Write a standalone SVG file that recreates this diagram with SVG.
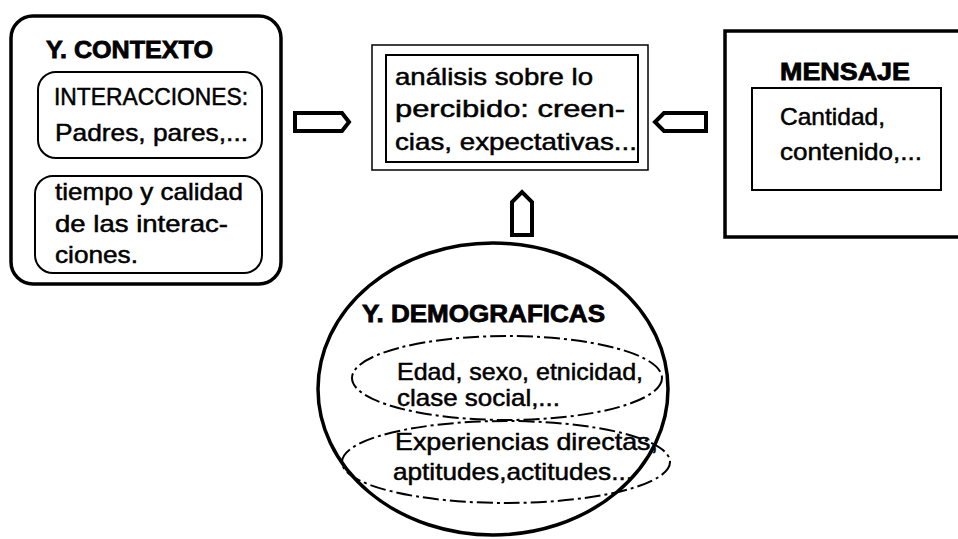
<svg xmlns="http://www.w3.org/2000/svg" width="958" height="539" viewBox="0 0 958 539">
<style>
  text { font-family: "Liberation Sans", Arial, sans-serif; font-size: 24px; fill: #000; stroke: #000; stroke-width: 0.5; }
  .b { font-weight: bold; stroke-width: 0.8; }
  .thick { fill: none; stroke: #000; stroke-width: 3.5; }
  .thin { fill: none; stroke: #000; stroke-width: 2; }
  .dash { fill: none; stroke: #000; stroke-width: 2; stroke-dasharray: 16 4 3 4; }
  .arrow { fill: #fff; stroke: #000; stroke-width: 4; stroke-linejoin: miter; }
</style>
<rect width="958" height="539" fill="#fff"/>

<g id="contexto">
  <rect class="thick" x="11" y="16" width="270" height="268" rx="22"/>
  <text class="b" x="46" y="58" textLength="167" lengthAdjust="spacingAndGlyphs">Y. CONTEXTO</text>
  <rect class="thin" x="38" y="72" width="224" height="86" rx="18"/>
  <text x="54" y="105" textLength="194" lengthAdjust="spacingAndGlyphs">INTERACCIONES:</text>
  <text x="55" y="141" textLength="193" lengthAdjust="spacingAndGlyphs">Padres, pares,...</text>
  <rect class="thin" x="35" y="176" width="227" height="97" rx="18"/>
  <text x="55" y="200" textLength="188" lengthAdjust="spacingAndGlyphs">tiempo y calidad</text>
  <text x="55" y="232" textLength="173" lengthAdjust="spacingAndGlyphs">de las interac-</text>
  <text x="55" y="263" textLength="83" lengthAdjust="spacingAndGlyphs">ciones.</text>
</g>

<g id="analisis">
  <rect fill="none" stroke="#000" stroke-width="1.5" x="372" y="45" width="276" height="125"/>
  <rect class="thin" x="386" y="55" width="252" height="107"/>
  <text x="395" y="85" textLength="198" lengthAdjust="spacingAndGlyphs">análisis sobre lo</text>
  <text x="395" y="117" textLength="230" lengthAdjust="spacingAndGlyphs">percibido: creen-</text>
  <text x="395" y="150" textLength="242" lengthAdjust="spacingAndGlyphs">cias, expectativas...</text>
</g>

<g id="mensaje">
  <path class="thick" d="M962,31 H725 V237 H962"/>
  <text class="b" x="780" y="80" textLength="130" lengthAdjust="spacingAndGlyphs">MENSAJE</text>
  <rect class="thin" x="752" y="88" width="189" height="102"/>
  <text x="780" y="125" textLength="105" lengthAdjust="spacingAndGlyphs">Cantidad,</text>
  <text x="780" y="160" textLength="142" lengthAdjust="spacingAndGlyphs">contenido,...</text>
</g>

<g id="demograficas">
  <ellipse class="thick" cx="493" cy="389" rx="175" ry="146"/>
  <text class="b" x="362" y="322" textLength="243" lengthAdjust="spacingAndGlyphs">Y. DEMOGRAFICAS</text>
  <ellipse class="dash" cx="507" cy="378" rx="155" ry="42"/>
  <text x="397" y="380" textLength="246" lengthAdjust="spacingAndGlyphs">Edad, sexo, etnicidad,</text>
  <text x="397" y="406" textLength="163" lengthAdjust="spacingAndGlyphs">clase social,...</text>
  <ellipse class="dash" cx="506" cy="462" rx="164" ry="41"/>
  <text x="395" y="450" textLength="263" lengthAdjust="spacingAndGlyphs">Experiencias directas,</text>
  <text x="393" y="480" textLength="240" lengthAdjust="spacingAndGlyphs">aptitudes,actitudes...</text>
</g>

<g id="connectors">
  <path class="arrow" d="M295,113 H342 L349,122 L342,131 H295 Z"/>
  <path class="arrow" d="M706,113 H664 L655,122 L664,131 H706 Z"/>
  <path class="arrow" d="M512,235 V202 L522,192 L532,202 V235 Z"/>
</g>
</svg>
